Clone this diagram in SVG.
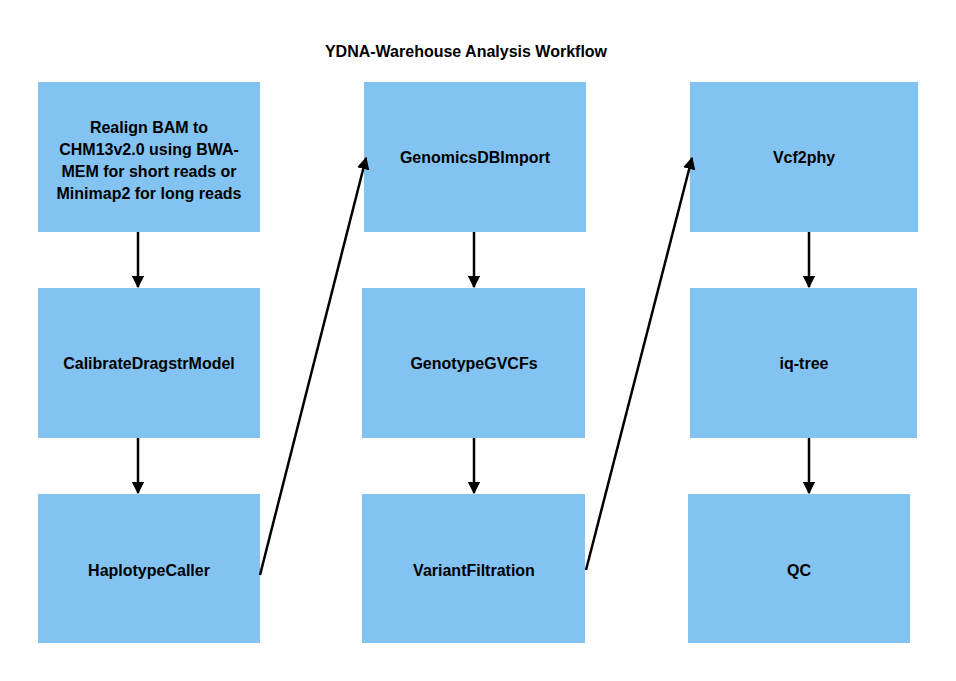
<svg xmlns="http://www.w3.org/2000/svg" width="956" height="681" viewBox="0 0 956 681">
<style>
.b{fill:#83C3F2}
.t{font-family:"Liberation Sans",Arial,sans-serif;font-weight:bold;font-size:16px;fill:#000;text-anchor:middle}
.c{stroke:#000;stroke-width:2.5;fill:none;marker-end:url(#a)}
</style>
<defs><marker id="a" viewBox="0 0 10 10" refX="9" refY="5" markerWidth="5" markerHeight="5" orient="auto"><path d="M0,0L10,5L0,10z" fill="#000"/></marker></defs>
<rect width="956" height="681" fill="#fff"/>
<text class="t" x="466" y="57">YDNA-Warehouse Analysis Workflow</text>
<g id="n1"><rect class="b" x="38" y="82" width="222" height="150"/><text class="t" x="149" y="133">Realign BAM to</text><text class="t" x="149" y="155">CHM13v2.0 using BWA-</text><text class="t" x="149" y="177">MEM for short reads or</text><text class="t" x="149" y="199">Minimap2 for long reads</text></g>
<g id="n2"><rect class="b" x="38" y="288" width="222" height="150"/><text class="t" x="149" y="369">CalibrateDragstrModel</text></g>
<g id="n3"><rect class="b" x="38" y="494" width="222" height="149"/><text class="t" x="149" y="576">HaplotypeCaller</text></g>
<g id="n4"><rect class="b" x="364" y="82" width="222" height="150"/><text class="t" x="475" y="163">GenomicsDBImport</text></g>
<g id="n5"><rect class="b" x="362" y="288" width="223" height="150"/><text class="t" x="474" y="369">GenotypeGVCFs</text></g>
<g id="n6"><rect class="b" x="362" y="494" width="223" height="149"/><text class="t" x="474" y="576">VariantFiltration</text></g>
<g id="n7"><rect class="b" x="690" y="82" width="228" height="150"/><text class="t" x="804" y="163">Vcf2phy</text></g>
<g id="n8"><rect class="b" x="690" y="288" width="227" height="150"/><text class="t" x="804" y="369">iq-tree</text></g>
<g id="n9"><rect class="b" x="688" y="494" width="222" height="149"/><text class="t" x="799" y="576">QC</text></g>
<g id="connectors">
<line class="c" x1="138" y1="232" x2="138" y2="287"/>
<line class="c" x1="138" y1="438" x2="138" y2="493"/>
<line class="c" x1="474" y1="232" x2="474" y2="287"/>
<line class="c" x1="474" y1="438" x2="474" y2="493"/>
<line class="c" x1="809" y1="232" x2="809" y2="287"/>
<line class="c" x1="809" y1="438" x2="809" y2="493"/>
<line class="c" x1="260" y1="575" x2="366" y2="158"/>
<line class="c" x1="586" y1="570" x2="692" y2="158"/>
</g>
</svg>
